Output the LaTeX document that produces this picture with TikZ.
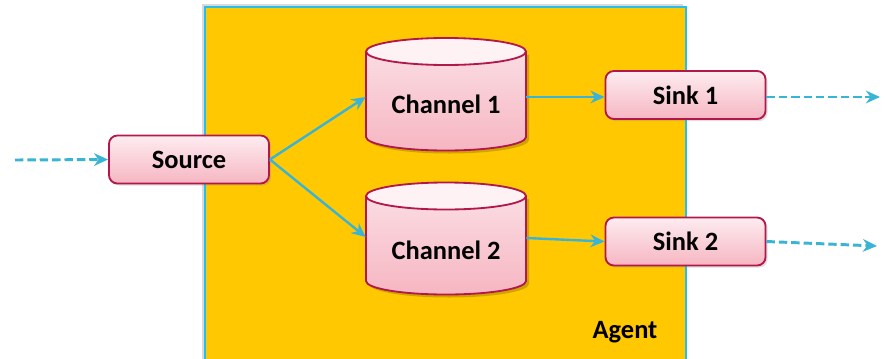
\documentclass[tikz,border=0pt]{standalone}
\usepackage{fontspec}
\setmainfont{Carlito}
\usepackage{xcolor}
\usepackage{tikz}
\usetikzlibrary{arrows.meta,positioning,calc,shadows,backgrounds}

\definecolor{agentfill}{RGB}{255,200,0}
\definecolor{agentline}{RGB}{40,190,235}
\definecolor{flow}{RGB}{58,180,214}
\definecolor{rim}{RGB}{178,24,76}
\definecolor{pinktop}{RGB}{253,236,240}
\definecolor{pinkbot}{RGB}{246,182,194}

\tikzset{
  lbl/.style={font=\fontsize{18.8}{22}\selectfont\bfseries},
  stage/.style={lbl, rectangle, rounded corners=6pt, draw=rim, line width=1.3pt,
    top color=pinktop, bottom color=pinkbot, minimum width=4cm, minimum height=1.2cm,
    drop shadow={shadow xshift=1.5pt, shadow yshift=-1.5pt, opacity=0.25}},
  chan/.style={lbl, rectangle, inner sep=0pt, minimum width=4cm},
  link/.style={flow, line width=1.7pt, -{Stealth[length=10pt, width=9pt]}},
  feed/.style={link, line width=2.1pt, dash pattern=on 6pt off 2.8pt}
}

\begin{document}
\begin{tikzpicture}[x=0.025cm, y=0.025cm]
    \useasboundingbox (0,0) rectangle (885,358);

    % Agent frame
    \fill[black, opacity=0.15] (202,354) rectangle (683,-10);
    \filldraw[fill=agentfill, draw=agentline, line width=1.6pt] (205,351) rectangle (686,-10);
    \node[lbl] (agent) at (625,26) {Agent};

    % Channels (cylinders)
    \foreach \cy/\cb in {306.5/221, 162/77} {
        \fill[black, opacity=0.18] (369,\cy-3) -- (369,\cb-3) arc[start angle=180, end angle=360, x radius=80, y radius=13.5]
            -- (529,\cy-3) -- cycle;
        \shade[top color=pinktop!70!pinkbot, bottom color=pinkbot] (366,\cy) -- (366,\cb)
            arc[start angle=180, end angle=360, x radius=80, y radius=13.5] -- (526,\cy) -- cycle;
        \draw[rim, line width=1.3pt] (366,\cy) -- (366,\cb)
            arc[start angle=180, end angle=360, x radius=80, y radius=13.5] -- (526,\cy);
        \filldraw[fill=pinktop!70!white, draw=rim, line width=1.3pt] (446,\cy) ellipse [x radius=80, y radius=13.5];
    }
    \node[chan] (ch1) at (446,254) {Channel 1};
    \node[chan] (ch2) at (446,108) {Channel 2};

    % Source and sinks
    \node[stage] (src) at (189,198.5) {Source};
    \node[stage] (sink1) at (685.5,263) {Sink 1};
    \node[stage] (sink2) at (685.5,116.5) {Sink 2};

    % Free ends of the outer flows
    \coordinate (in) at (15,198);
    \coordinate (out1) at (880,261);
    \coordinate (out2) at (877,112);

    % Flows
    \draw[link] (src.east) -- ($(ch1.west)+(0,7)$);
    \draw[link] (src.east) -- ($(ch2.west)+(0,13)$);
    \draw[link] ($(ch1.east)+(0,7)$) -- ($(sink1.west)+(0,-2)$);
    \draw[link] ($(ch2.east)+(0,12)$) -- (sink2.west);
    \draw[feed] (in) -- (src.west);
    \draw[feed] ($(sink1.east)+(0,-2)$) -- (out1);
    \draw[feed] (sink2.east) -- (out2);
\end{tikzpicture}
\end{document}
